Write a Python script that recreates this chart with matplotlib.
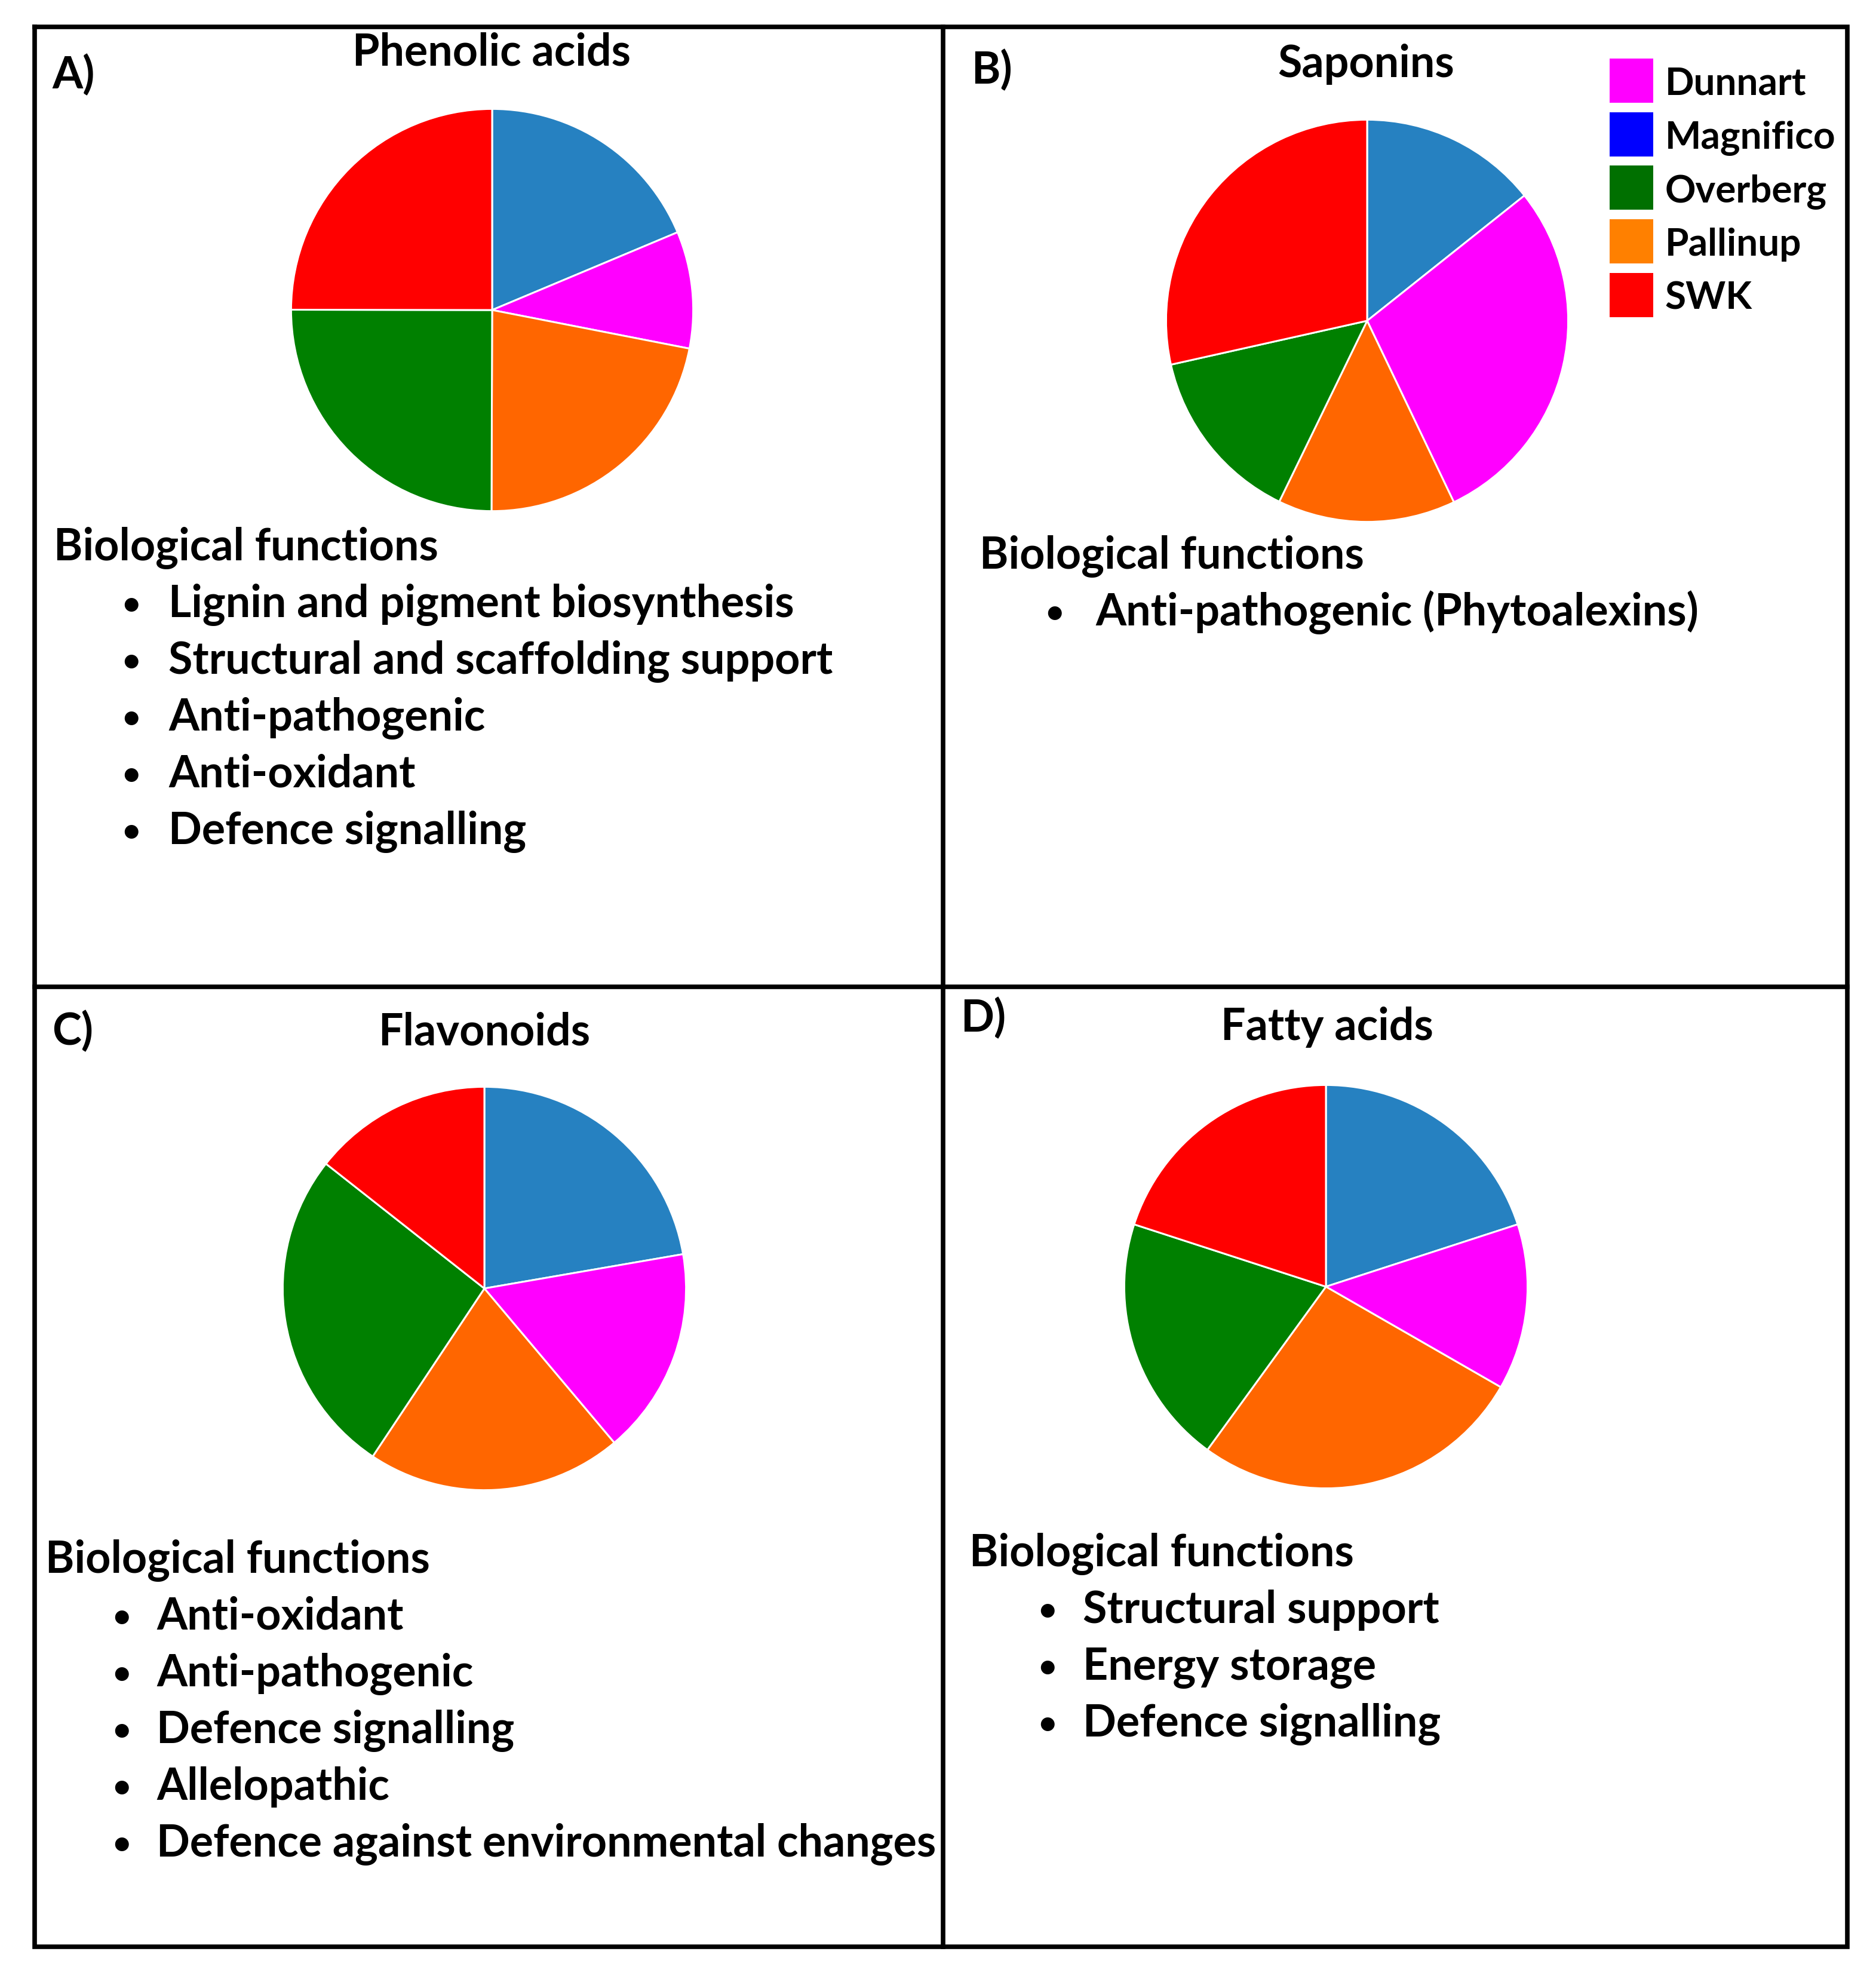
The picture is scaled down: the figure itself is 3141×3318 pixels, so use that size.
import matplotlib
matplotlib.use("Agg")
import matplotlib.pyplot as plt
from matplotlib.patches import Rectangle

plt.rcParams['font.family'] = ['Lato', 'DejaVu Sans']

# ---------------- data ----------------
slice_labels = ['Magnifico', 'Dunnart', 'Pallinup', 'Overberg', 'SWK']
slice_colors = ['#2681c1', '#ff00ff', '#ff6600', '#008000', '#ff0000']

phenolic_acids = [18.7, 9.4, 22.0, 25.0, 25.0]
saponins = [14.3, 28.6, 14.3, 14.3, 28.5]
flavonoids = [22.3, 16.6, 20.5, 26.3, 14.4]
fatty_acids = [20.0, 13.3, 26.7, 20.0, 20.0]

legend_labels = ['Dunnart', 'Magnifico', 'Overberg', 'Pallinup', 'SWK']
legend_colors = ['#ff00ff', '#0000ff', '#007000', '#ff8000', '#ff0000']

titles = ['Phenolic acids', 'Saponins', 'Flavonoids', 'Fatty acids']
panel_letters = ['A)', 'B)', 'C)', 'D)']
functions_a = ['Lignin and pigment biosynthesis', 'Structural and scaffolding support',
               'Anti-pathogenic', 'Anti-oxidant', 'Defence signalling']
functions_b = ['Anti-pathogenic (Phytoalexins)']
functions_c = ['Anti-oxidant', 'Anti-pathogenic', 'Defence signalling', 'Allelopathic',
               'Defence against environmental changes']
functions_d = ['Structural support', 'Energy storage', 'Defence signalling']

# ---------------- layout ----------------
W, H = 3141, 3318
fig = plt.figure(figsize=(W / 100, H / 100), dpi=100)
bg = fig.add_axes([0, 0, 1, 1])
bg.set_xlim(0, W)
bg.set_ylim(H, 0)
bg.axis('off')

FS = 53
LW = 5.5
# frame
bg.plot([58, 3093, 3093, 58, 58], [45, 45, 3259, 3259, 45], color='black', lw=LW,
        solid_joinstyle='miter')
bg.plot([1579, 1579], [45, 3259], color='black', lw=LW)
bg.plot([58, 3093], [1652, 1652], color='black', lw=LW)

panels = [
    dict(vals=phenolic_acids, c=(824, 519), r=340, title_xy=(823, 109), letter_xy=(87, 148),
         head=(90, 938), bullet_x=219, text_x=282, funcs=functions_a),
    dict(vals=saponins, c=(2289, 537), r=340, title_xy=(2287, 129), letter_xy=(1626, 140),
         head=(1640, 952), bullet_x=1766, text_x=1834, funcs=functions_b),
    dict(vals=flavonoids, c=(811, 2157), r=341, title_xy=(811, 1749), letter_xy=(87, 1749),
         head=(76, 2633), bullet_x=203, text_x=262, funcs=functions_c),
    dict(vals=fatty_acids, c=(2220, 2154), r=341, title_xy=(2222, 1741), letter_xy=(1608, 1727),
         head=(1623, 2622), bullet_x=1753, text_x=1813, funcs=functions_d),
]

LINE = 95
for i, p in enumerate(panels):
    cx, cy = p['c']
    r = p['r']
    ax = fig.add_axes([(cx - r) / W, 1 - (cy + r) / H, 2 * r / W, 2 * r / H])
    ax.pie(p['vals'], colors=slice_colors, startangle=90, counterclock=False,
           radius=1, wedgeprops=dict(edgecolor='white', linewidth=2.2))
    ax.set_xlim(-1.01, 1.01)
    ax.set_ylim(-1.01, 1.01)
    ax.set_aspect('equal')
    ax.axis('off')

    bg.text(p['title_xy'][0], p['title_xy'][1], titles[i], ha='center', va='baseline',
            fontsize=FS, fontweight='bold')
    bg.text(p['letter_xy'][0], p['letter_xy'][1], panel_letters[i], ha='left', va='baseline',
            fontsize=FS, fontweight='bold')
    hx, hy = p['head']
    bg.text(hx, hy, 'Biological functions', ha='left', va='baseline',
            fontsize=FS, fontweight='bold')
    for j, f in enumerate(p['funcs']):
        y = hy + LINE * (j + 1)
        bg.text(p['bullet_x'], y - 4, '\u2022', ha='center', va='baseline',
                fontsize=38, fontweight='bold')
        bg.text(p['text_x'], y, f, ha='left', va='baseline',
                fontsize=FS, fontweight='bold')

# legend (panel B)
for k, (lab, col) in enumerate(zip(legend_labels, legend_colors)):
    y0 = 98 + k * 89.7
    bg.add_patch(Rectangle((2695, y0), 73, 74, facecolor=col, edgecolor='none'))
    bg.text(2788, y0 + 37, lab, ha='left', va='center_baseline', fontsize=46, fontweight='bold')

fig.savefig('out.png', dpi=100, facecolor='white')
